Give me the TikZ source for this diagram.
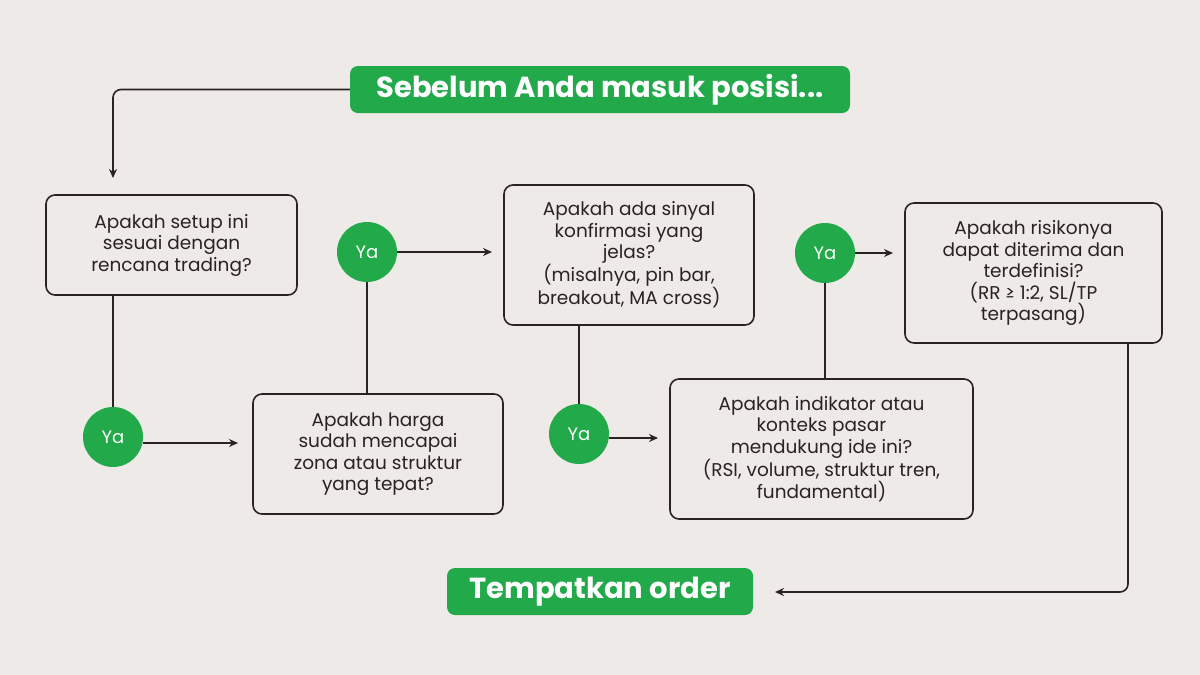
\documentclass[tikz,border=0pt]{standalone}
\usepackage{fontspec}
\setmainfont{Poppins}
\usetikzlibrary{arrows.meta}
\definecolor{bg}{HTML}{EEEAE7}
\definecolor{gr}{HTML}{22A94A}
\definecolor{ink}{HTML}{2B2222}
\begin{document}
\begin{tikzpicture}[x=1pt,y=-1pt,
  qbox/.style={draw=ink,line width=1.6pt,rounded corners=9pt,fill=bg,align=center,text=ink,font=\fontsize{18.5}{21.5}\selectfont,inner sep=0pt},
  yac/.style={circle,fill=gr,minimum size=60pt,inner sep=0pt,text=white,font=\fontsize{18}{20}\selectfont},
  ttl/.style={fill=gr,rounded corners=8pt,text=white,font=\fontsize{29}{32}\selectfont\bfseries,inner sep=0pt},
  ln/.style={draw=ink,line width=1.6pt},
  arr/.style={ln,-{Stealth[length=9pt,width=8pt]}}]
\fill[bg] (0,0) rectangle (1200,675);
\node[ttl,minimum width=500pt,minimum height=47pt] (t) at (600,89.5) {Sebelum Anda masuk posisi...};
\node[qbox,minimum width=251pt,minimum height=100pt] (b1) at (171.5,245) {Apakah setup ini\\sesuai dengan\\rencana trading?};
\node[qbox,minimum width=250pt,minimum height=120pt] (b2) at (378,454) {Apakah harga\\sudah mencapai\\zona atau struktur\\yang tepat?};
\node[qbox,minimum width=250pt,minimum height=140pt] (b3) at (629,255) {Apakah ada sinyal\\konfirmasi yang\\jelas?\\(misalnya, pin bar,\\breakout, MA cross)};
\node[qbox,minimum width=303pt,minimum height=140pt] (b4) at (821.5,449) {Apakah indikator atau\\konteks pasar\\mendukung ide ini?\\(RSI, volume, struktur tren,\\fundamental)};
\node[qbox,minimum width=257pt,minimum height=140pt] (b5) at (1033.5,273) {Apakah risikonya\\dapat diterima dan\\terdefinisi?\\(RR ≥ 1:2, SL/TP\\terpasang)};
\node[ttl,minimum width=306pt,minimum height=47pt] (e) at (600,591.5) {Tempatkan order};
\node[yac] (y1) at (113,437) {Ya};
\node[yac] (y2) at (367,252) {Ya};
\node[yac] (y3) at (579,434) {Ya};
\node[yac] (y4) at (825,253) {Ya};
\coordinate (c1) at (113,178);
\draw[arr,rounded corners=8pt] (t.west) -- (113,89.5) -- (c1);
\draw[ln] (b1.south -| y1) -- (y1);
\coordinate (a1) at (238,443);
\draw[arr] (y1.east |- a1) -- (a1);
\draw[ln] (b2.north -| y2) -- (y2);
\coordinate (a2) at (492,252);
\draw[arr] (y2) -- (a2);
\draw[ln] (b3.south -| y3) -- (y3);
\coordinate (a3) at (658,438);
\draw[arr] (y3.east |- a3) -- (a3);
\draw[ln] (b4.north -| y4) -- (y4);
\coordinate (a4) at (893,253);
\draw[arr] (y4) -- (a4);
\coordinate (a5) at (775,592);
\draw[arr,rounded corners=8pt] (1128,343) -- (1128,592) -- (a5);
\end{tikzpicture}
\end{document}
